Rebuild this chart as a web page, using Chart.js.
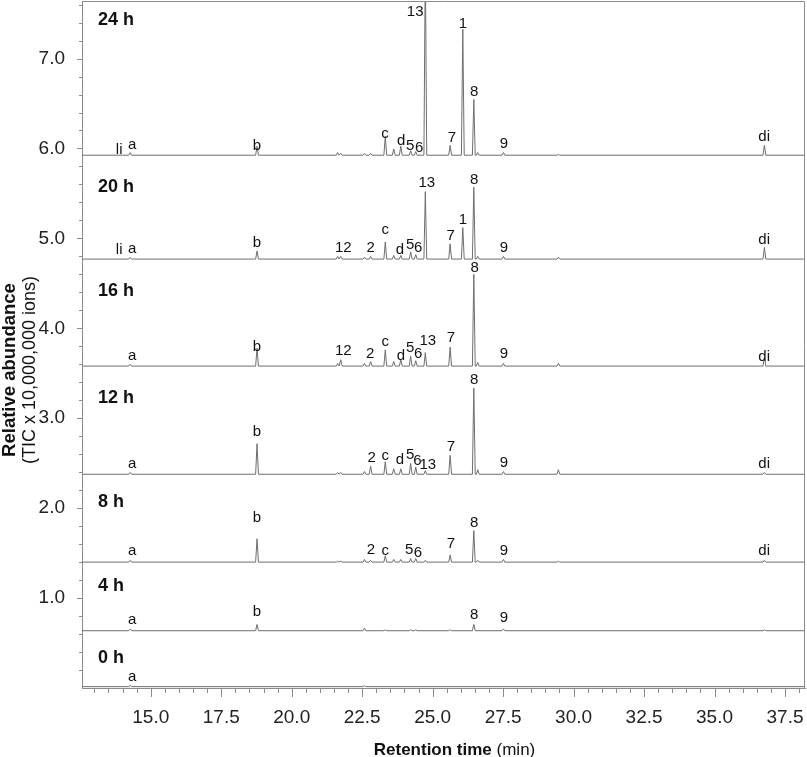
<!DOCTYPE html>
<html>
<head>
<meta charset="utf-8">
<script src="https://cdn.jsdelivr.net/npm/chart.js@4.4.1/dist/chart.umd.min.js"></script>
<style>
  html, body { margin: 0; padding: 0; background: #fff; overflow: hidden; }
  #wrap { width: 807px; height: 757px; position: relative; }
  canvas { display: block; }
</style>
</head>
<body>
<div id="wrap"><canvas id="tic-chart"></canvas></div>
<script>
// retention times (min) of the peaks seen in the traces
const retentionTimes = [
  14.27, 18.77, 21.63, 21.74, 22.58, 22.8, 23.32, 23.62, 23.87, 24.22,
  24.4, 24.74, 25.62, 26.07, 26.46, 26.6, 27.51, 29.46, 36.77,
];

// sampling times and the stacked baseline of every trace
const sampleNames = ["0 h", "4 h", "8 h", "12 h", "16 h", "20 h", "24 h"];
const baselines = [0.015, 0.637, 1.4, 2.377, 3.58, 4.77, 5.925];

// peak heights above the baseline (TIC x 10,000,000 ions), same order as retentionTimes
const heights0h = [0.015, 0, 0, 0, 0.01, 0, 0, 0, 0, 0, 0, 0, 0, 0, 0, 0, 0, 0, 0];
const heights4h = [0.02, 0.07, 0, 0, 0.03, 0, 0.01, 0, 0, 0.01, 0.01, 0, 0.01, 0, 0.07, 0, 0.02, 0, 0.01];
const heights8h = [0.02, 0.26, 0.01, 0.01, 0.03, 0.02, 0.07, 0.03, 0.03, 0.04, 0.04, 0.02, 0.08, 0, 0.35, 0.02, 0.03, 0.01, 0.02];
const heights12h = [0.02, 0.34, 0.02, 0.02, 0.03, 0.09, 0.14, 0.06, 0.06, 0.12, 0.08, 0.04, 0.21, 0, 0.96, 0.05, 0.03, 0.05, 0.02];
const heights16h = [0.02, 0.2, 0.03, 0.07, 0.03, 0.05, 0.18, 0.05, 0.07, 0.11, 0.06, 0.15, 0.21, 0, 1.02, 0.04, 0.03, 0.03, 0.1];
const heights20h = [0.02, 0.09, 0.03, 0.03, 0.02, 0.03, 0.19, 0.04, 0.04, 0.08, 0.05, 0.75, 0.17, 0.35, 0.8, 0.03, 0.03, 0.02, 0.13];
const heights24h = [0.03, 0.1, 0.03, 0.02, 0.02, 0.02, 0.21, 0.07, 0.1, 0.05, 0.04, 2.2, 0.11, 1.4, 0.62, 0.03, 0.03, 0.01, 0.11];
const allHeights = [heights0h, heights4h, heights8h, heights12h, heights16h, heights20h, heights24h];

// axis ticks
const xTickLabels = [15, 17.5, 20, 22.5, 25, 27.5, 30, 32.5, 35, 37.5];
const yTickLabels = [1, 2, 3, 4, 5, 6, 7];

// peak names: [text, retention time, abundance]
const peakLabels = [
  // 24 h
  ["li", 13.88, 5.98], ["a", 14.34, 6.04], ["b", 18.77, 6.03], ["c", 23.31, 6.16],
  ["d", 23.88, 6.09], ["5", 24.2, 6.03], ["6", 24.52, 6.01], ["13", 24.38, 7.52],
  ["7", 25.68, 6.12], ["1", 26.07, 7.39], ["8", 26.47, 6.63], ["9", 27.53, 6.05],
  ["di", 36.76, 6.13],
  // 20 h
  ["li", 13.88, 4.87], ["a", 14.34, 4.88], ["b", 18.77, 4.95], ["12", 21.83, 4.89],
  ["2", 22.8, 4.9], ["c", 23.32, 5.09], ["d", 23.84, 4.87], ["5", 24.2, 4.93],
  ["6", 24.49, 4.89], ["13", 24.79, 5.62], ["7", 25.64, 5.03], ["1", 26.07, 5.21],
  ["8", 26.47, 5.65], ["9", 27.53, 4.89], ["di", 36.76, 4.98],
  // 16 h
  ["a", 14.34, 3.69], ["b", 18.77, 3.79], ["12", 21.83, 3.75], ["2", 22.78, 3.72],
  ["c", 23.32, 3.85], ["d", 23.87, 3.69], ["5", 24.2, 3.78], ["6", 24.49, 3.72],
  ["13", 24.83, 3.86], ["7", 25.65, 3.89], ["8", 26.49, 4.67], ["9", 27.53, 3.72],
  ["di", 36.76, 3.68],
  // 12 h
  ["a", 14.34, 2.49], ["b", 18.77, 2.85], ["2", 22.84, 2.56], ["c", 23.32, 2.58],
  ["d", 23.84, 2.54], ["5", 24.2, 2.59], ["6", 24.46, 2.53], ["13", 24.83, 2.48],
  ["7", 25.65, 2.68], ["8", 26.47, 3.43], ["9", 27.53, 2.5], ["di", 36.76, 2.49],
  // 8 h
  ["a", 14.34, 1.52], ["b", 18.77, 1.89], ["2", 22.81, 1.54], ["c", 23.32, 1.53],
  ["5", 24.17, 1.54], ["6", 24.48, 1.5], ["7", 25.65, 1.6], ["8", 26.47, 1.84],
  ["9", 27.53, 1.52], ["di", 36.76, 1.52],
  // 4 h
  ["a", 14.34, 0.76], ["b", 18.77, 0.85], ["8", 26.47, 0.81], ["9", 27.53, 0.78],
  // 0 h
  ["a", 14.34, 0.12],
];

// where the "xx h" tags sit: [retention time, abundance]
const sampleTagPos = [[13.13, 0.33], [13.13, 1.13], [13.13, 2.07], [13.13, 3.22], [13.13, 4.42], [13.13, 5.57], [13.13, 7.43]];

const xMin = 12.56;
const xMax = 38.21;
const peakHalfWidth = 0.05;
const fontFamily = '"Liberation Sans", Arial, sans-serif';
const axisColor = "#8c8c8c";

// build one trace: flat baseline with a narrow peak at every retention time
const buildTrace = (base, heights) => {
  const pts = [{ x: xMin, y: base }];
  retentionTimes.forEach((t, i) => {
    if (heights[i] > 0) {
      pts.push({ x: t - peakHalfWidth, y: base });
      pts.push({ x: t, y: base + heights[i] });
      pts.push({ x: t + peakHalfWidth, y: base });
    }
  });
  pts.push({ x: xMax, y: base });
  return pts;
};

const datasets = sampleNames.map((name, i) => ({
  label: name,
  data: buildTrace(baselines[i], allHeights[i]),
  borderColor: "#6e6e6e",
  borderWidth: 1,
  pointRadius: 0,
  tension: 0,
}));

// no extra room for the end tick labels
const noPadding = (scale) => {
  scale.paddingTop = 0;
  scale.paddingBottom = 0;
  scale.paddingLeft = 0;
  scale.paddingRight = 0;
};

// ticks, frame, peak names and axis titles
const decorPlugin = {
  id: "decor",
  afterDraw(chart) {
    const { ctx, chartArea, scales } = chart;
    const x = scales.x;
    const y = scales.y;
    ctx.save();
    ctx.strokeStyle = axisColor;
    ctx.lineWidth = 1;

    // top and right frame
    ctx.beginPath();
    ctx.moveTo(chartArea.left, chartArea.top + 0.5);
    ctx.lineTo(chartArea.right - 0.5, chartArea.top + 0.5);
    ctx.lineTo(chartArea.right - 0.5, chartArea.bottom);
    ctx.stroke();

    // x ticks every 0.5 min, long ones every 2.5 min
    ctx.beginPath();
    for (let i = 26; i <= 76; i++) {
      const px = Math.round(x.getPixelForValue(i / 2)) + 0.5;
      const len = i % 5 === 0 ? 9 : 5;
      ctx.moveTo(px, chartArea.bottom);
      ctx.lineTo(px, chartArea.bottom + len);
    }
    // y ticks every 0.2
    for (let i = 1; i <= 38; i++) {
      const py = Math.round(y.getPixelForValue(i / 5)) + 0.5;
      const len = i % 5 === 0 ? 5 : 3;
      ctx.moveTo(chartArea.left - len, py);
      ctx.lineTo(chartArea.left, py);
    }
    ctx.stroke();

    // peak names
    ctx.fillStyle = "#111";
    ctx.textAlign = "center";
    ctx.textBaseline = "middle";
    ctx.font = "15px " + fontFamily;
    peakLabels.forEach(([txt, t, v]) => {
      ctx.fillText(txt, x.getPixelForValue(t), y.getPixelForValue(v));
    });

    // sample tags
    ctx.textAlign = "left";
    ctx.font = "bold 18px " + fontFamily;
    sampleNames.forEach((name, i) => {
      const [t, v] = sampleTagPos[i];
      ctx.fillText(name, x.getPixelForValue(t), y.getPixelForValue(v));
    });

    // y title, two lines centred on the same height
    ctx.save();
    ctx.translate(0, 370);
    ctx.rotate(-Math.PI / 2);
    ctx.textAlign = "center";
    ctx.textBaseline = "alphabetic";
    ctx.font = "bold 18.5px " + fontFamily;
    ctx.fillText("Relative abundance", 0, 15);
    ctx.font = "18px " + fontFamily;
    ctx.fillText("(TIC x 10,000,000 ions)", 0, 35);
    ctx.restore();

    // x title, bold part + normal part
    ctx.textBaseline = "middle";
    ctx.font = "bold 17px " + fontFamily;
    const boldPart = "Retention time";
    const wBold = ctx.measureText(boldPart).width;
    ctx.font = "17px " + fontFamily;
    const normPart = " (min)";
    const wNorm = ctx.measureText(normPart).width;
    const startX = 454.5 - (wBold + wNorm) / 2;
    ctx.font = "bold 17px " + fontFamily;
    ctx.fillText(boldPart, startX, 750);
    ctx.font = "17px " + fontFamily;
    ctx.fillText(normPart, startX + wBold, 750);
    ctx.restore();
  },
};

const chart = new Chart(document.getElementById("tic-chart"), {
  type: "line",
  data: { datasets },
  options: {
    responsive: true,
    maintainAspectRatio: false,
    animation: false,
    events: [],
    layout: { padding: { top: 1, right: 2, left: 0, bottom: 0 } },
    plugins: {
      legend: { display: false },
      tooltip: { enabled: false },
    },
    scales: {
      x: {
        type: "linear",
        min: xMin,
        max: xMax,
        afterBuildTicks: (scale) => {
          scale.ticks = xTickLabels.map((v) => ({ value: v }));
        },
        afterFit: (scale) => {
          scale.height = 69;
          noPadding(scale);
        },
        grid: { display: false },
        border: { display: true, color: axisColor, width: 1 },
        ticks: {
          padding: 10,
          maxRotation: 0,
          autoSkip: false,
          color: "#222",
          font: { family: fontFamily, size: 19 },
          callback: (v) => Number(v).toFixed(1),
        },
      },
      y: {
        min: 0,
        max: 7.64,
        afterBuildTicks: (scale) => {
          scale.ticks = yTickLabels.map((v) => ({ value: v }));
        },
        afterFit: (scale) => {
          scale.width = 82;
          noPadding(scale);
        },
        grid: { display: false },
        border: { display: true, color: axisColor, width: 1 },
        ticks: {
          padding: 9,
          color: "#222",
          font: { family: fontFamily, size: 19 },
          callback: (v) => Number(v).toFixed(1),
        },
      },
    },
  },
  plugins: [decorPlugin],
});
</script>
</body>
</html>
